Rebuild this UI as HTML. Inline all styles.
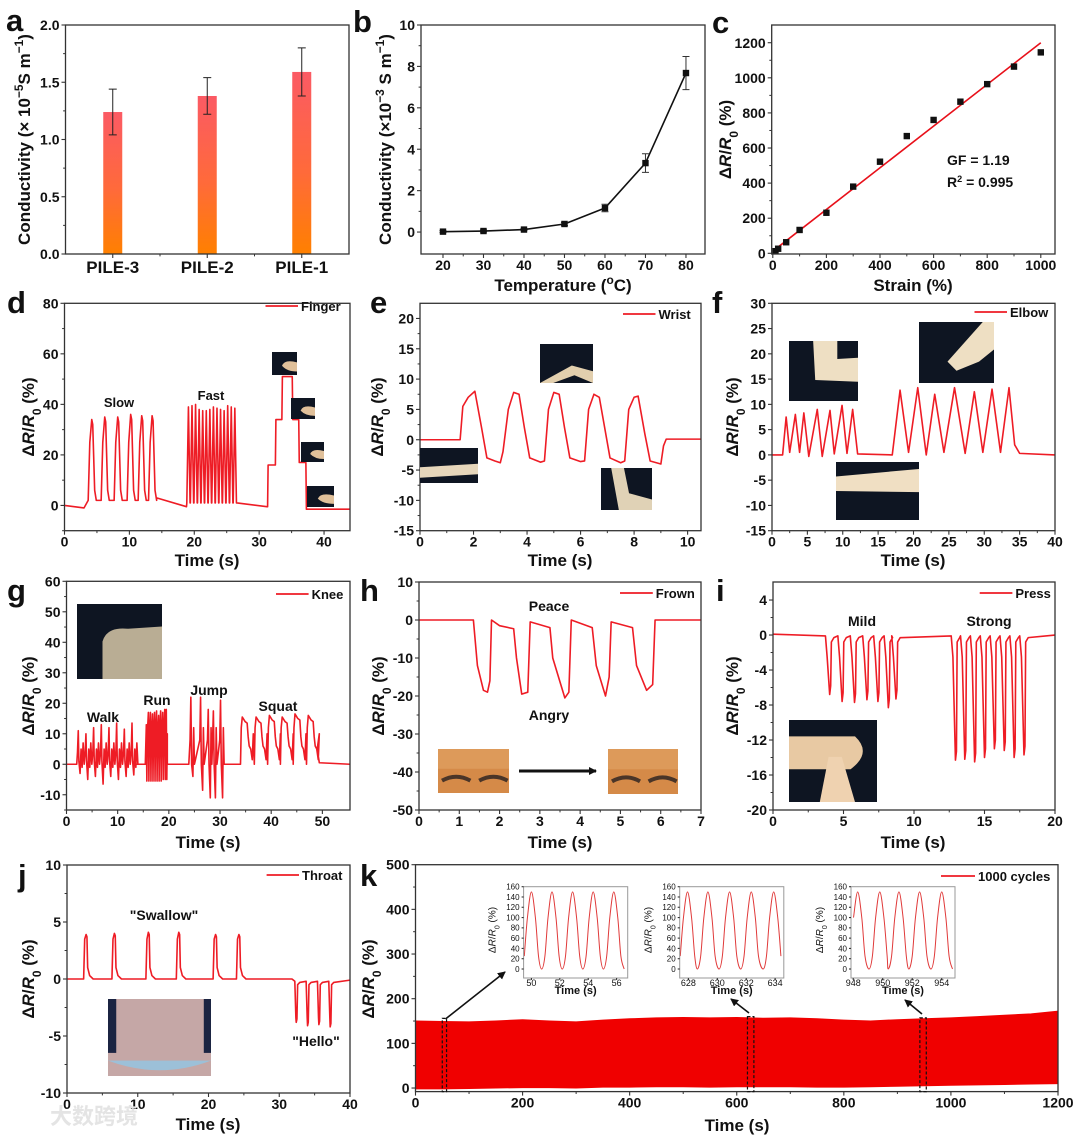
<!DOCTYPE html>
<html><head><meta charset="utf-8"><style>
html,body{margin:0;padding:0;background:#fff;}
svg{display:block;font-family:"Liberation Sans",Arial,"Noto Sans CJK SC",sans-serif;}
</style></head><body>
<svg id="fig" width="1080" height="1138" viewBox="0 0 1080 1138" xmlns="http://www.w3.org/2000/svg">
<defs>
<linearGradient id="barGrad" x1="0" y1="0" x2="0" y2="1"><stop offset="0" stop-color="#fb5a64"/><stop offset="0.55" stop-color="#ff6a3a"/><stop offset="1" stop-color="#ff8000"/></linearGradient>
<marker id="arrowHead" markerWidth="8" markerHeight="8" refX="7" refY="4" orient="auto" markerUnits="userSpaceOnUse"><path d="M0,0 L8,4 L0,8 Z" fill="#111"/></marker>
</defs>
</svg>
<script>
// ---------- DATA ----------
const aCats = ['PILE-3','PILE-2','PILE-1'];
const aVals = [1.24, 1.38, 1.59];
const aErr = [0.2, 0.16, 0.21];
const bTemps = [20,30,40,50,60,70,80];
const bVals = [0.02,0.05,0.12,0.39,1.16,3.33,7.68];
const bErr = [0.05,0.05,0.05,0.08,0.18,0.45,0.8];
const cStrain = [10,20,50,100,200,300,400,500,600,700,800,900,1000];
const cResp = [12,26,63,133,231,380,522,668,760,864,964,1064,1145];
const cFitX = [0,1000];
const cFitY = [12,1200];
const dSlowT = [4.2,6.2,8.2,10.2,11.9,13.5];
const dSlowH = [34,35,35,36,35.5,35.5];
const dFastT = [19.1,19.65,20.2,20.75,21.3,21.85,22.4,22.95,23.5,24.05,24.6,25.15,25.7,26.25];
const dFastH = [39,39.5,40,38,37.5,37.5,38,39,38.5,38,37.5,39.5,39,38.5];
const dStepT = [31.3,32.5,33.5,35.1,36.1,37.2];
const dStepV = [16,34,51,34,17,-1.5];
const ePts = [[0,0],[1.5,0],[1.6,5.5],[1.8,7],[2.05,8],[2.3,2],[2.5,-3],[2.8,-3.5],[3,-3.8],[3.1,-2],[3.3,5],[3.5,7.8],[3.7,7.5],[3.9,2],[4.1,-3],[4.5,-3.7],[4.65,-3.5],[4.8,5],[5,7.8],[5.2,7.5],[5.4,2],[5.6,-3],[6,-3.6],[6.15,-3.5],[6.3,5],[6.5,7.5],[6.7,7],[6.9,2],[7.1,-3],[7.5,-3.8],[7.65,-3.5],[7.8,5],[8,7],[8.15,7.2],[8.4,1],[8.6,-3.5],[9,-4],[9.1,-1],[9.2,0.1],[10.5,0.1]];
const fPts = [[0,0],[1.5,0],[2,7.5],[2.5,0.5],[3.3,8],[3.9,0.5],[4.5,8.3],[5.2,-0.3],[6.4,9],[7.1,-0.3],[8.2,8.8],[8.8,0.2],[9.9,9.8],[10.6,0.3],[11.4,9],[12.1,0.2],[17,0],[18.1,12.8],[19.3,0.5],[20.6,13.3],[21.8,0],[23,12],[24.3,0.5],[25.8,13.3],[27.3,0.3],[28.6,12.5],[29.8,0.5],[31.1,13],[32.3,0.5],[33.5,13.3],[34.3,2],[35,0.3],[40,0]];
const gWalkT = [2.3,3.8,5.3,6.8,8.3,9.8,11.3,12.8];
const gWalkHi = [11,10,12,13,12,13.5,11.5,13.5];
const gWalkLo = [-3,-5,-4,-6.5,-4,-5,-4,-3.5];
const gRunT = [15.6,16,16.4,16.8,17.2,17.6,18,18.4,18.8,19.2,19.5];
const gRunHi = [13,17,17,16.5,17,17.5,16,17.5,17,18,18];
const gRunLo = [-5.5,-5.5,-5.5,-5.5,-5.5,-5.5,-5.5,-5.5,-5,-5,-5];
const gJumpT = [24.3,26.2,27.7,28.7,30.1];
const gJumpHi = [22,22,18,17.5,21];
const gJumpLo = [-4,-8.5,-11,-11,-11];
const gSquatT = [34,36.7,39.3,41.8,44.3,46.9];
const gSquatH = [15.5,15.5,16,15.5,16.5,16];
const hPts = [[0,0],[1.35,0],[1.45,-12],[1.6,-18.5],[1.7,-19],[1.76,-16],[1.8,0],[2,-1.5],[2.35,-2.3],[2.42,-10],[2.55,-19.5],[2.7,-19],[2.76,-0.5],[3.25,-2],[3.32,-10],[3.62,-20.5],[3.72,-19],[3.78,0],[4.3,-2],[4.4,-12],[4.63,-20],[4.72,-15],[4.77,-0.5],[5.3,-2],[5.4,-12],[5.65,-18.5],[5.8,-17],[5.86,0],[7,0]];
const iT = [4.02,4.9,5.78,6.66,7.44,8.18,8.72,12.94,13.6,14.3,15.0,15.7,16.4,17.1,17.8];
const iD = [6.8,7.6,7.7,7.4,7.6,8.3,7.3,14.3,14.2,14.5,14,13,13.2,14,13.7];
const jPeakT = [2.7,6.7,11.5,15.8,21,24.3];
const jPeakH = [3.9,4,4.1,4.1,3.9,3.9];
const jDipT = [32.4,34,35.6,37.2];
const jDipD = [3.8,4.1,4,4.2];
const kEnvT = [0,50,100,150,200,250,300,350,400,450,500,550,600,650,700,750,800,850,900,950,1000,1050,1100,1150,1200];
const kUpper = [150,149,148,150,153,150,148,152,155,157,158,157,158,156,157,155,152,150,153,155,157,160,163,166,172];
const kLower = [-2,-2,-1,0,1,1,0,2,2,3,3,2,3,3,3,2,2,3,4,5,6,7,8,9,10];
const kIn1Peaks = [50.0,51.45,52.9,54.35,55.8];
const kIn2Peaks = [627.94,629.35,630.85,632.35,633.9];
const kIn3Peaks = [948.3,949.8,951.1,952.5,954.0];
const kPeakVal = [150,150,150,150,150];

// ---------- HELPERS ----------
const NS='http://www.w3.org/2000/svg';
const svg=document.getElementById('fig');
function mk(tag, attrs, name, parent){
  const e=document.createElementNS(NS,tag);
  for(const k in attrs) e.setAttribute(k, attrs[k]);
  
  
  (parent||svg).appendChild(e);
  return e;
}
function txt(x,y,s,name,opt){
  opt=opt||{};
  const t=mk('text',{x:x,y:y,'font-size':opt.fs||14,'font-weight':opt.fw||'bold','text-anchor':opt.anchor||'middle',fill:opt.fill||'#111'},name,opt.parent);
  if(opt.html) t.innerHTML=s; else t.textContent=s;
  if(opt.rot) t.setAttribute('transform','rotate(-90 '+x+' '+y+')');
  return t;
}
function axes(name,x0,x1,yT,yB,xmin,xmax,ymin,ymax){
  const g=mk('g',{},name);
  return {g:g,x0:x0,x1:x1,yT:yT,yB:yB,
    sx:v=>x0+(v-xmin)/(xmax-xmin)*(x1-x0),
    sy:v=>yB-(v-ymin)/(ymax-ymin)*(yB-yT)};
}
function frame(a,name,color){
  mk('rect',{x:a.x0,y:a.yT,width:a.x1-a.x0,height:a.yB-a.yT,fill:'none',stroke:color||'#333','stroke-width':1.3},name,a.g);
}
function xTicks(a,vals,labels,minor,opt){
  opt=opt||{};
  const len=opt.len||4, fs=opt.fs||14, dy=opt.dy||15;
  vals.forEach((v,i)=>{
    mk('line',{x1:a.sx(v),x2:a.sx(v),y1:a.yB,y2:a.yB+len,stroke:'#333','stroke-width':1.1},'x-tick',a.g);
    txt(a.sx(v),a.yB+len+dy-3,labels[i],'x-tick-label',{fs:fs,parent:a.g,fw:opt.fw});
  });
  (minor||[]).forEach(v=>{
    mk('line',{x1:a.sx(v),x2:a.sx(v),y1:a.yB,y2:a.yB+len*0.6,stroke:'#333','stroke-width':1},'x-minor-tick',a.g);
  });
}
function yTicks(a,vals,labels,minor,opt){
  opt=opt||{};
  const len=opt.len||4, fs=opt.fs||14;
  vals.forEach((v,i)=>{
    mk('line',{x1:a.x0-len,x2:a.x0,y1:a.sy(v),y2:a.sy(v),stroke:'#333','stroke-width':1.1},'y-tick',a.g);
    txt(a.x0-len-2,a.sy(v)+fs*0.36,labels[i],'y-tick-label',{fs:fs,anchor:'end',parent:a.g,fw:opt.fw});
  });
  (minor||[]).forEach(v=>{
    mk('line',{x1:a.x0-len*0.6,x2:a.x0,y1:a.sy(v),y2:a.sy(v),stroke:'#333','stroke-width':1},'y-minor-tick',a.g);
  });
}
function line(a,pts,name,color,w){
  const d=pts.map((p,i)=>(i?'L':'M')+a.sx(p[0]).toFixed(2)+','+a.sy(p[1]).toFixed(2)).join('');
  return mk('path',{d:d,fill:'none',stroke:color||'#ee1c25','stroke-width':w||1.6,'stroke-linejoin':'round'},name,a.g);
}
function smooth(a,pts,name,color,w){
  const P=pts.map(p=>[a.sx(p[0]),a.sy(p[1])]);
  let d='M'+P[0][0]+','+P[0][1];
  for(let i=0;i<P.length-1;i++){
    const p0=P[i-1]||P[i],p1=P[i],p2=P[i+1],p3=P[i+2]||P[i+1];
    d+='C'+(p1[0]+(p2[0]-p0[0])/6)+','+(p1[1]+(p2[1]-p0[1])/6)+' '+(p2[0]-(p3[0]-p1[0])/6)+','+(p2[1]-(p3[1]-p1[1])/6)+' '+p2[0]+','+p2[1];
  }
  return mk('path',{d:d,fill:'none',stroke:color||'#ee1c25','stroke-width':w||1.6},name,a.g);
}
const DR='<tspan>Δ</tspan><tspan font-style="italic">R</tspan>/<tspan font-style="italic">R</tspan><tspan baseline-shift="sub" font-size="70%">0</tspan> (%)';
function legend(a,x1,x2,y,label,name){
  mk('line',{x1:x1,x2:x2,y1:y,y2:y,stroke:'#ee1c25','stroke-width':1.8},name+'-line',a.g);
  txt(x2+3,y+5,label,name+'-label',{fs:13,anchor:'start',parent:a.g});
}
function letter(x,y,s){txt(x,y,s,'panel-label-'+s,{fs:31,anchor:'start'});}
function photo(x,y,w,h,name,kind){
  const g=mk('g',{},name);
  if(kind==='face'){
    mk('rect',{x:x,y:y,width:w,height:h,fill:'#d58a48'},'photo-bg',g);
    mk('rect',{x:x,y:y,width:w,height:h*0.45,fill:'#dd9a5a'},'photo-forehead',g);
    mk('path',{d:'M'+(x+4)+','+(y+h*0.72)+' q'+(w*0.2)+','+(-h*0.18)+' '+(w*0.4)+',0 M'+(x+w*0.58)+','+(y+h*0.72)+' q'+(w*0.2)+','+(-h*0.18)+' '+(w*0.4)+',0',stroke:'#4a3528','stroke-width':4,fill:'none'},'photo-brows',g);
    return;
  }
  if(kind==='neck'){
    mk('rect',{x:x,y:y,width:w,height:h,fill:'#c5a7a6'},'photo-bg',g);
    mk('rect',{x:x,y:y,width:w*0.08,height:h*0.7,fill:'#1b2442'},'photo-side',g);
    mk('rect',{x:x+w*0.93,y:y,width:w*0.07,height:h*0.7,fill:'#1b2442'},'photo-side',g);
    mk('rect',{x:x,y:y+h*0.8,width:w,height:h*0.2,fill:'#9cc0d8'},'photo-shirt',g);
    mk('path',{d:'M'+x+','+(y+h*0.8)+' Q'+(x+w/2)+','+(y+h*1.05)+' '+(x+w)+','+(y+h*0.8)+' L'+(x+w)+','+(y+h)+' L'+x+','+(y+h)+'Z',fill:'#c5a7a6'},'photo-chest',g);
    return;
  }
  mk('rect',{x:x,y:y,width:w,height:h,fill:kind==='light'?'#2a2f3a':'#0e1522'},'photo-bg',g);
  if(kind==='armflat') mk('path',{d:'M'+x+','+(y+h*0.55)+' L'+(x+w)+','+(y+h*0.45)+' L'+(x+w)+','+(y+h*0.75)+' L'+x+','+(y+h*0.85)+'Z',fill:'#e6d6bb'},'photo-arm',g);
  if(kind==='armbent') mk('path',{d:'M'+x+','+(y+h)+' L'+(x+w*0.6)+','+(y+h*0.55)+' L'+(x+w)+','+(y+h*0.7)+' L'+(x+w)+','+(y+h)+' L'+(x+w*0.65)+','+(y+h*0.8)+' L'+(x+w*0.25)+','+(y+h)+'Z',fill:'#e2cfae'},'photo-arm',g);
  if(kind==='wristdown') mk('path',{d:'M'+(x+w*0.2)+','+y+' L'+(x+w*0.45)+','+y+' L'+(x+w*0.55)+','+(y+h*0.6)+' L'+(x+w)+','+(y+h*0.75)+' L'+(x+w)+','+(y+h)+' L'+(x+w*0.35)+','+(y+h)+'Z',fill:'#e0d2b6'},'photo-arm',g);
  if(kind==='elbow1') mk('path',{d:'M'+(x+w*0.35)+','+y+' L'+(x+w*0.7)+','+y+' L'+(x+w*0.7)+','+(y+h*0.3)+' L'+(x+w)+','+(y+h*0.28)+' L'+(x+w)+','+(y+h*0.68)+' L'+(x+w*0.38)+','+(y+h*0.65)+'Z',fill:'#eedfc3'},'photo-arm',g);
  if(kind==='elbow2') mk('path',{d:'M'+(x+w*0.85)+','+y+' L'+(x+w)+','+y+' L'+(x+w)+','+(y+h*0.45)+' L'+(x+w*0.8)+','+(y+h*0.65)+' L'+(x+w*0.5)+','+(y+h*0.8)+' L'+(x+w*0.38)+','+(y+h*0.65)+'Z',fill:'#eedfc3'},'photo-arm',g);
  if(kind==='elbow3') mk('path',{d:'M'+x+','+(y+h*0.25)+' L'+(x+w)+','+(y+h*0.12)+' L'+(x+w)+','+(y+h*0.52)+' L'+x+','+(y+h*0.5)+'Z',fill:'#f0dfc3'},'photo-arm',g);
  if(kind==='knee') mk('path',{d:'M'+(x+w*0.3)+','+(y+h)+' L'+(x+w*0.3)+','+(y+h*0.5)+' Q'+(x+w*0.35)+','+(y+h*0.3)+' '+(x+w*0.6)+','+(y+h*0.33)+' L'+(x+w)+','+(y+h*0.3)+' L'+(x+w)+','+(y+h)+'Z',fill:'#b9ad94'},'photo-leg',g);
  if(kind==='fist'){
    mk('path',{d:'M'+x+','+(y+h*0.2)+' L'+(x+w*0.75)+','+(y+h*0.2)+' Q'+(x+w*0.95)+','+(y+h*0.4)+' '+(x+w*0.7)+','+(y+h*0.6)+' L'+x+','+(y+h*0.6)+'Z',fill:'#e8c9a3'},'photo-fist',g);
    mk('path',{d:'M'+(x+w*0.35)+','+(y+h)+' L'+(x+w*0.45)+','+(y+h*0.45)+' L'+(x+w*0.6)+','+(y+h*0.45)+' L'+(x+w*0.75)+','+(y+h)+'Z',fill:'#efd2b0'},'photo-finger',g);
  }
  if(kind==='hand') mk('path',{d:'M'+(x+w*0.4)+','+(y+h*0.6)+' Q'+(x+w*0.5)+','+(y+h*0.3)+' '+(x+w)+','+(y+h*0.45)+' L'+(x+w)+','+(y+h*0.85)+' Q'+(x+w*0.6)+','+(y+h*0.85)+' '+(x+w*0.4)+','+(y+h*0.6)+'Z',fill:'#e0c09a'},'photo-hand',g);
}

// ---------- PANEL A ----------
(function(){
  const a=axes('panel-a',65.5,349,25,254,-0.5,2.5,0,2.0);
  aCats.forEach((c,i)=>{
    mk('rect',{x:a.sx(i)-9.5,y:a.sy(aVals[i]),width:19,height:a.sy(0)-a.sy(aVals[i]),fill:'url(#barGrad)'},'bar-'+c.toLowerCase(),a.g);
    const x=a.sx(i), yh=a.sy(aVals[i]+aErr[i]), yl=a.sy(aVals[i]-aErr[i]);
    mk('path',{d:'M'+x+','+yh+'V'+yl+'M'+(x-4)+','+yh+'H'+(x+4)+'M'+(x-4)+','+yl+'H'+(x+4),stroke:'#222','stroke-width':1,fill:'none'},'error-bar',a.g);
  });
  frame(a,'plot-frame-a');
  xTicks(a,[0,1,2],aCats,[0.5,1.5],{fs:17,dy:18});
  yTicks(a,[0,0.5,1,1.5,2],['0.0','0.5','1.0','1.5','2.0'],[0.25,0.75,1.25,1.75]);
  txt(30,139.5,'Conductivity (× 10<tspan baseline-shift="super" font-size="70%">−5</tspan>S m<tspan baseline-shift="super" font-size="70%">−1</tspan>)','y-axis-title-a',{fs:17,rot:true,html:true});
  letter(6,31,'a');
})();
// ---------- PANEL B ----------
(function(){
  const a=axes('panel-b',421,705,25,254,14.57,84.7,-1.06,10);
  const d=bTemps.map((t,i)=>[t,bVals[i]]);
  line(a,d,'temperature-line','#111',1.6);
  bTemps.forEach((t,i)=>{
    const x=a.sx(t), yh=a.sy(bVals[i]+bErr[i]), yl=a.sy(bVals[i]-bErr[i]);
    mk('path',{d:'M'+x+','+yh+'V'+yl+'M'+(x-3.5)+','+yh+'H'+(x+3.5)+'M'+(x-3.5)+','+yl+'H'+(x+3.5),stroke:'#333','stroke-width':1,fill:'none'},'error-bar',a.g);
    mk('rect',{x:x-3.2,y:a.sy(bVals[i])-3.2,width:6.4,height:6.4,fill:'#111'},'point-'+t,a.g);
  });
  frame(a,'plot-frame-b');
  xTicks(a,[20,30,40,50,60,70,80],['20','30','40','50','60','70','80'],[25,35,45,55,65,75]);
  yTicks(a,[0,2,4,6,8,10],['0','2','4','6','8','10'],[1,3,5,7,9]);
  txt(391,139.5,'Conductivity (×10<tspan baseline-shift="super" font-size="70%">−3</tspan> S m<tspan baseline-shift="super" font-size="70%">−1</tspan>)','y-axis-title-b',{fs:17,rot:true,html:true});
  txt(563,291,'Temperature (<tspan baseline-shift="super" font-size="70%">o</tspan>C)','x-axis-title-b',{fs:17,html:true});
  letter(353,32,'b');
})();
// ---------- PANEL C ----------
(function(){
  const a=axes('panel-c',771.7,1055,25,254,-4.1,1053,-4,1301);
  line(a,cFitX.map((x,i)=>[x,cFitY[i]]),'linear-fit-line','#e8101a',1.6);
  cStrain.forEach((s,i)=>mk('rect',{x:a.sx(s)-3.2,y:a.sy(cResp[i])-3.2,width:6.4,height:6.4,fill:'#111'},'point-'+s,a.g));
  frame(a,'plot-frame-c');
  xTicks(a,[0,200,400,600,800,1000],['0','200','400','600','800','1000'],[100,300,500,700,900]);
  yTicks(a,[0,200,400,600,800,1000,1200],['0','200','400','600','800','1000','1200'],[100,300,500,700,900,1100]);
  txt(731,139.5,DR,'y-axis-title-c',{fs:17,rot:true,html:true});
  txt(913,291,'Strain (%)','x-axis-title-c',{fs:17});
  txt(947,165,'GF = 1.19','gauge-factor-text',{fs:14,anchor:'start'});
  txt(947,187,'R<tspan baseline-shift="super" font-size="65%">2</tspan> = 0.995','r-squared-text',{fs:14,anchor:'start',html:true});
  letter(712,33,'c');
})();
// ---------- PANEL D ----------
(function(){
  const a=axes('panel-d',64.5,350,303.3,530.7,0,44,-10,80);
  photo(272,352,25,23,'finger-photo-1','hand');
  photo(291,398,24,21,'finger-photo-2','hand');
  photo(301,442,23,20,'finger-photo-3','hand');
  photo(307,486,27,21,'finger-photo-4','hand');
  const p=[[0,0],[3,-1]];
  dSlowT.forEach((t,i)=>{const h=dSlowH[i];p.push([t-0.55,2],[t-0.3,25],[t,h],[t+0.15,h-2],[t+0.45,6],[t+0.7,2]);});
  p.push([14.2,3],[18.8,-0.5]);
  dFastT.forEach((t,i)=>{p.push([t-0.25,1],[t,dFastH[i]],[t+0.25,1]);});
  p.push([26.6,1],[31.2,-0.5]);
  let prev=-0.5;
  dStepT.forEach((t,i)=>{p.push([t,prev],[t+0.08,dStepV[i]]);prev=dStepV[i];});
  p.push([44,-1.5]);
  line(a,p,'finger-signal-line');
  frame(a,'plot-frame-d');
  xTicks(a,[0,10,20,30,40],['0','10','20','30','40'],[5,15,25,35]);
  yTicks(a,[0,20,40,60,80],['0','20','40','60','80'],[-10,10,30,50,70]);
  legend(a,265.5,298,306,'Finger','legend-finger');
  txt(119,407,'Slow','slow-annotation',{fs:13});
  txt(211,400,'Fast','fast-annotation',{fs:13});
  txt(34,417,DR,'y-axis-title-d',{fs:17,rot:true,html:true});
  txt(207,566,'Time (s)','x-axis-title-d',{fs:17});
  letter(7,313,'d');
})();
// ---------- PANEL E ----------
(function(){
  const a=axes('panel-e',420,701,303.3,530.7,0,10.5,-15,22.5);
  photo(420,448,58,35,'wrist-photo-flat','armflat');
  photo(540,344,53,39,'wrist-photo-up','armbent');
  photo(601,468,51,42,'wrist-photo-down','wristdown');
  line(a,ePts,'wrist-signal-line');
  frame(a,'plot-frame-e');
  xTicks(a,[0,2,4,6,8,10],['0','2','4','6','8','10'],[1,3,5,7,9]);
  yTicks(a,[-15,-10,-5,0,5,10,15,20],['-15','-10','-5','0','5','10','15','20'],[-12.5,-7.5,-2.5,2.5,7.5,12.5,17.5]);
  legend(a,623,655.5,314,'Wrist','legend-wrist');
  txt(383,417,DR,'y-axis-title-e',{fs:17,rot:true,html:true});
  txt(560,566,'Time (s)','x-axis-title-e',{fs:17});
  letter(370,313,'e');
})();
// ---------- PANEL F ----------
(function(){
  const a=axes('panel-f',772,1055,303.3,530.7,0,40,-15,30);
  photo(789,341,69,60,'elbow-photo-1','elbow1');
  photo(919,322,75,61,'elbow-photo-2','elbow2');
  photo(836,462,83,58,'elbow-photo-3','elbow3');
  line(a,fPts,'elbow-signal-line');
  frame(a,'plot-frame-f');
  xTicks(a,[0,5,10,15,20,25,30,35,40],['0','5','10','15','20','25','30','35','40'],[2.5,7.5,12.5,17.5,22.5,27.5,32.5,37.5]);
  yTicks(a,[-15,-10,-5,0,5,10,15,20,25,30],['-15','-10','-5','0','5','10','15','20','25','30'],[]);
  legend(a,974.5,1007,312,'Elbow','legend-elbow');
  txt(738,417,DR,'y-axis-title-f',{fs:17,rot:true,html:true});
  txt(913,566,'Time (s)','x-axis-title-f',{fs:17});
  letter(712,313,'f');
})();
// ---------- PANEL G ----------
(function(){
  const a=axes('panel-g',66.5,350,581.3,810,0,55.4,-15,60);
  photo(77,604,85,75,'knee-photo','knee');
  const p=[[0,0],[2,0]];
  gWalkT.forEach((t,i)=>{p.push([t-0.15,4],[t,gWalkHi[i]],[t+0.12,1],[t+0.35,gWalkLo[i]],[t+0.55,5],[t+0.75,-1],[t+0.95,7],[t+1.15,0]);});
  p.push([13.6,0],[15.4,0]);
  gRunT.forEach((t,i)=>{p.push([t,gRunHi[i]],[t+0.1,gRunLo[i]],[t+0.2,10]);});
  p.push([19.7,0],[23.9,0]);
  gJumpT.forEach((t,i)=>{p.push([t-0.15,8],[t,gJumpHi[i]],[t+0.15,0],[t+0.4,gJumpLo[i]],[t+0.55,12],[t+0.7,0]);});
  p.push([30.8,0],[33.7,0]);
  gSquatT.forEach((t,i)=>{const h=gSquatH[i];p.push([t,0],[t+0.15,12],[t+0.35,h],[t+0.9,h-1.5],[t+1.3,h-2],[t+1.5,9],[t+1.7,6],[t+2.0,5],[t+2.3,1.5],[t+2.5,10]);});
  p.push([49,5],[49.4,0.5],[55.4,0]);
  line(a,p,'knee-signal-line');
  frame(a,'plot-frame-g');
  xTicks(a,[0,10,20,30,40,50],['0','10','20','30','40','50'],[5,15,25,35,45]);
  yTicks(a,[-10,0,10,20,30,40,50,60],['-10','0','10','20','30','40','50','60'],[-15,-5,5,15,25,35,45,55]);
  legend(a,276,308.6,594,'Knee','legend-knee');
  txt(103,722,'Walk','walk-annotation',{fs:14});
  txt(157,705,'Run','run-annotation',{fs:14});
  txt(209,695,'Jump','jump-annotation',{fs:14});
  txt(278,711,'Squat','squat-annotation',{fs:14});
  txt(34,696,DR,'y-axis-title-g',{fs:17,rot:true,html:true});
  txt(208,848,'Time (s)','x-axis-title-g',{fs:17});
  letter(7,601,'g');
})();
// ---------- PANEL H ----------
(function(){
  const a=axes('panel-h',419,701,582,810,0,7,-50,10);
  line(a,hPts,'frown-signal-line');
  frame(a,'plot-frame-h');
  xTicks(a,[0,1,2,3,4,5,6,7],['0','1','2','3','4','5','6','7'],[0.5,1.5,2.5,3.5,4.5,5.5,6.5]);
  yTicks(a,[-50,-40,-30,-20,-10,0,10],['-50','-40','-30','-20','-10','0','10'],[-45,-35,-25,-15,-5,5]);
  photo(438,749,71,44,'face-photo-peace','face');
  photo(608,749,70,45,'face-photo-angry','face');
  mk('line',{x1:519,y1:771,x2:596,y2:771,stroke:'#111','stroke-width':3,'marker-end':'url(#arrowHead)'},'expression-arrow',a.g);
  legend(a,620,652.8,593,'Frown','legend-frown');
  txt(549,611,'Peace','peace-annotation',{fs:14});
  txt(549,720,'Angry','angry-annotation',{fs:14});
  txt(384,696,DR,'y-axis-title-h',{fs:17,rot:true,html:true});
  txt(560,848,'Time (s)','x-axis-title-h',{fs:17});
  letter(360,601,'h');
})();
// ---------- PANEL I ----------
(function(){
  const a=axes('panel-i',773,1055,582,810,0,20,-20,6.06);
  photo(789,720,88,82,'fist-photo','fist');
  const p=[[0,0.1]];
  iT.forEach((t,i)=>{const d=iD[i];p.push([t-0.3,-0.1],[t-0.18,-2.5],[t,-d],[t+0.07,-d+1],[t+0.12,-0.8],[t+0.3,-0.3]);});
  p.push([20,0]);
  line(a,p,'press-signal-line');
  frame(a,'plot-frame-i');
  xTicks(a,[0,5,10,15,20],['0','5','10','15','20'],[2.5,7.5,12.5,17.5]);
  yTicks(a,[-20,-16,-12,-8,-4,0,4],['-20','-16','-12','-8','-4','0','4'],[-18,-14,-10,-6,-2,2]);
  legend(a,979.7,1012.4,593,'Press','legend-press');
  txt(862,626,'Mild','mild-annotation',{fs:14});
  txt(989,626,'Strong','strong-annotation',{fs:14});
  txt(738,696,DR,'y-axis-title-i',{fs:17,rot:true,html:true});
  txt(913,848,'Time (s)','x-axis-title-i',{fs:17});
  letter(716,601,'i');
})();
// ---------- PANEL J ----------
(function(){
  const a=axes('panel-j',67,350,865,1093,0,40,-10,10);
  photo(108,999,103,77,'throat-photo','neck');
  const p=[[0,0]];
  jPeakT.forEach((t,i)=>{const h=jPeakH[i];p.push([t-0.35,0],[t-0.2,3.5],[t,h],[t+0.12,h-0.2],[t+0.22,1],[t+0.5,0.3],[t+1,0]);});
  p.push([31.8,0]);
  jDipT.forEach((t,i)=>{const d=jDipD[i];p.push([t-0.2,-0.2],[t-0.05,-3.4],[t,-d],[t+0.1,-d+0.3],[t+0.2,-0.5],[t+0.5,-0.3]);});
  p.push([40,-0.1]);
  line(a,p,'throat-signal-line');
  frame(a,'plot-frame-j');
  xTicks(a,[0,10,20,30,40],['0','10','20','30','40'],[5,15,25,35]);
  yTicks(a,[-10,-5,0,5,10],['-10','-5','0','5','10'],[-7.5,-2.5,2.5,7.5]);
  legend(a,266.6,299,875,'Throat','legend-throat');
  txt(164,920,'"Swallow"','swallow-annotation',{fs:14});
  txt(316,1046,'"Hello"','hello-annotation',{fs:14});
  txt(34,979,DR,'y-axis-title-j',{fs:17,rot:true,html:true});
  txt(208,1130,'Time (s)','x-axis-title-j',{fs:17});
  letter(18,886,'j');
})();
// ---------- PANEL K ----------
(function(){
  const a=axes('panel-k',415.5,1058,864.7,1091.6,0,1200,-8,500);
  let d='';
  kEnvT.forEach((t,i)=>{d+=(i?'L':'M')+a.sx(t).toFixed(1)+','+a.sy(kUpper[i]).toFixed(1);});
  for(let i=kEnvT.length-1;i>=0;i--) d+='L'+a.sx(kEnvT[i]).toFixed(1)+','+a.sy(kLower[i]).toFixed(1);
  mk('path',{d:d+'Z',fill:'#f00000',stroke:'#f00000','stroke-width':1},'cycling-signal-band',a.g);
  frame(a,'plot-frame-k');
  xTicks(a,[0,200,400,600,800,1000,1200],['0','200','400','600','800','1000','1200'],[100,300,500,700,900,1100]);
  yTicks(a,[0,100,200,300,400,500],['0','100','200','300','400','500'],[50,150,250,350,450]);
  legend(a,941,975,876,'1000 cycles','legend-1000-cycles');
  txt(374,979,DR,'y-axis-title-k',{fs:17,rot:true,html:true});
  txt(737,1131,'Time (s)','x-axis-title-k',{fs:17});
  letter(360,886,'k');
  [[50,58,156],[620,632,160],[942,954,157]].forEach((b,i)=>{
    mk('rect',{x:a.sx(b[0]),y:a.sy(b[2]),width:a.sx(b[1])-a.sx(b[0]),height:a.sy(-8)-a.sy(b[2]),fill:'none',stroke:'#111','stroke-width':1.2,'stroke-dasharray':'3,2'},'zoom-box-'+(i+1),a.g);
  });
  mk('line',{x1:445.5,y1:1019,x2:505,y2:972,stroke:'#111','stroke-width':1.6,'marker-end':'url(#arrowHead)'},'zoom-arrow-1',a.g);
  mk('line',{x1:749,y1:1013,x2:731,y2:999,stroke:'#111','stroke-width':1.6,'marker-end':'url(#arrowHead)'},'zoom-arrow-2',a.g);
  mk('line',{x1:922,y1:1014,x2:905,y2:1000,stroke:'#111','stroke-width':1.6,'marker-end':'url(#arrowHead)'},'zoom-arrow-3',a.g);
  const insets=[[523.6,627.7,49.45,56.78,kIn1Peaks,[50,52,54,56]],[679.7,783.8,627.4,634.6,kIn2Peaks,[628,630,632,634]],[851,955,947.85,954.9,kIn3Peaks,[948,950,952,954]]];
  insets.forEach((ins,n)=>{
    const b=axes('inset-'+(n+1),ins[0],ins[1],886.7,978,ins[2],ins[3],-17.5,160);
    const pts=[];
    ins[4].forEach((t,i)=>{const v=kPeakVal[i];pts.push([t-0.73,0],[t-0.5,25],[t-0.28,100],[t,v],[t+0.28,100],[t+0.5,25]);});
    pts.push([ins[4][ins[4].length-1]+0.73,0]);
    const pl=pts.filter(p=>p[0]>=ins[2]&&p[0]<=ins[3]);
    smooth(b,pl,'inset-signal-line','#e03a3a',1);
    mk('rect',{x:b.x0,y:b.yT,width:b.x1-b.x0,height:b.yB-b.yT,fill:'none',stroke:'#999','stroke-width':1},'inset-frame',b.g);
    xTicks(b,ins[5],ins[5].map(String),[],{fs:9,len:2,dy:9,fw:'normal'});
    yTicks(b,[0,20,40,60,80,100,120,140,160],['0','20','40','60','80','100','120','140','160'],[],{fs:8,len:2,fw:'normal'});
    txt((b.x0+b.x1)/2,994,'Time (s)','inset-x-axis-title',{fs:11,parent:b.g});
    txt(b.x0-28,930,DR,'inset-y-axis-title',{fs:10,rot:true,html:true,fw:'normal',parent:b.g});
  });
})();
txt(50,1124,'大数跨境','watermark',{fs:22,anchor:'start',fill:'#e4e4e4'});
</script>
</body></html>
